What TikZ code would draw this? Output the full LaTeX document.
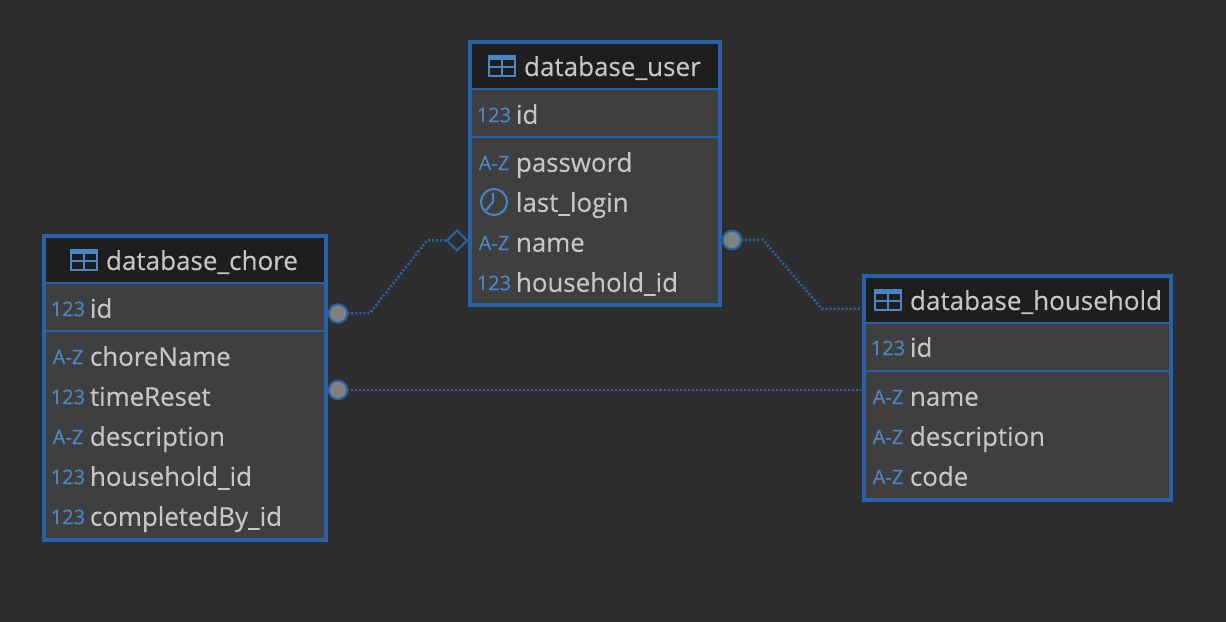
\documentclass[tikz,border=0pt]{standalone}
\usepackage{fontspec}
\setmainfont{Open Sans}[FakeBold=0.25]
\usetikzlibrary{shapes.geometric, positioning}

\definecolor{canvas}{HTML}{2E2E2E}
\definecolor{rowfill}{HTML}{3F3F3F}
\definecolor{headfill}{HTML}{1E1E1E}
\definecolor{frameblue}{HTML}{2A62A8}
\definecolor{iconblue}{HTML}{4A86C4}
\definecolor{fieldtext}{HTML}{C6C6C6}
\definecolor{dotfill}{HTML}{808080}

\begin{document}
\begin{tikzpicture}[
    x=0.01cm, y=-0.01cm,
    % Table frame
    tablebox/.style={
        rectangle,
        draw=frameblue,
        fill=rowfill,
        line width=0.04cm,
        inner sep=0pt,
        outer sep=0pt
    },
    % Dark title band
    headband/.style={
        rectangle,
        fill=headfill,
        anchor=north,
        minimum height=0.45cm,
        inner sep=0pt,
        outer sep=0pt
    },
    % Texts
    tabletitle/.style={
        anchor=base west,
        inner sep=0pt,
        xshift=-0.007cm,
        text=fieldtext,
        font=\fontsize{7.4}{8}\selectfont
    },
    field/.style={
        anchor=base west,
        inner sep=0pt,
        xshift=-0.007cm,
        yshift=0.007cm,
        text=fieldtext,
        font=\fontsize{7.35}{8}\selectfont
    },
    typetag/.style={
        inner sep=0pt,
        text=iconblue,
        font=\fontsize{5.7}{6}\selectfont
    },
    % Row separators
    rowline/.style={
        draw=frameblue,
        line width=0.02cm
    },
    % Connector ends and lines
    keydot/.style={
        circle,
        draw=frameblue,
        fill=dotfill,
        line width=0.02cm,
        minimum size=0.185cm,
        inner sep=0pt,
        outer sep=0pt
    },
    optdiamond/.style={
        diamond,
        aspect=1,
        draw=frameblue,
        line width=0.02cm,
        minimum size=0.2cm,
        inner sep=0pt,
        outer sep=0pt
    },
    relation/.style={
        draw=frameblue,
        line width=0.025cm,
        dash pattern=on 0.02cm off 0.02cm
    },
    % Icons
    tableicon/.pic={
        \draw[iconblue, line width=0.02cm] (-13,-10) rectangle (13,10);
        \fill[iconblue] (-14,-11) rectangle (14,-6);
        \draw[iconblue, line width=0.02cm] (-13,1.5) -- (13,1.5);
        \draw[iconblue, line width=0.02cm] (0,-6) -- (0,10);
    },
    clockicon/.pic={
        \draw[iconblue, line width=0.02cm] (0,0) circle[radius=13];
        \draw[iconblue, line width=0.02cm] (-1,-9) -- (-1,0) -- (-8,8);
    }
]

\fill[canvas] (0,0) rectangle (1226,622);
\useasboundingbox (0,0) rectangle (1226,622);

% === Table: database_user ===
\node[tablebox, minimum width=2.5cm, minimum height=2.63cm] (user) at (595,173.5) {};
\node[headband, minimum width=2.46cm] (userhead) at (595,44) {};
\draw[rowline] (userhead.south west) -- (userhead.south east);
\coordinate (userkeyl) at (472,137);
\draw[rowline] (userkeyl) -- (718,137);
\pic at (502,66) {tableicon};
\node[tabletitle] (usertitle) at (524,76) {database\_user};

\node[typetag] (useridtag) at (494,115) {123};
\node[field] (useridname) at (516,124.5) {id};
\node[typetag] (userpasstag) at (494,163) {A-Z};
\node[field] (userpassname) at (516,172.5) {password};
\pic at (494,202) {clockicon};
\node[field] (userloginname) at (516,212.5) {last\_login};
\node[typetag] (usernametag) at (494,243) {A-Z};
\node[field] (usernamename) at (516,252.5) {name};
\node[typetag] (userhometag) at (494,283) {123};
\node[field] (userhomename) at (516,292.5) {household\_id};

% === Table: database_chore ===
\node[tablebox, minimum width=2.82cm, minimum height=3.04cm] (chore) at (185,388) {};
\node[headband, minimum width=2.78cm] (chorehead) at (185,238) {};
\draw[rowline] (chorehead.south west) -- (chorehead.south east);
\coordinate (chorekeyl) at (46,331);
\draw[rowline] (chorekeyl) -- (324,331);
\pic at (84,260) {tableicon};
\node[tabletitle] (choretitle) at (106,270) {database\_chore};

\node[typetag] (choreidtag) at (68,309) {123};
\node[field] (choreidname) at (90,318.5) {id};
\node[typetag] (chorenametag) at (68,357) {A-Z};
\node[field] (chorenamename) at (90,366.5) {choreName};
\node[typetag] (choretimetag) at (68,397) {123};
\node[field] (choretimename) at (90,406.5) {timeReset};
\node[typetag] (choredesctag) at (68,437) {A-Z};
\node[field] (choredescname) at (90,446.5) {description};
\node[typetag] (chorehometag) at (68,477) {123};
\node[field] (chorehomename) at (90,486.5) {household\_id};
\node[typetag] (choredonetag) at (68,517) {123};
\node[field] (choredonename) at (90,526.5) {completedBy\_id};

% === Table: database_household ===
\node[tablebox, minimum width=3.07cm, minimum height=2.24cm] (household) at (1017.5,388) {};
\node[headband, minimum width=3.03cm] (househead) at (1017.5,278) {};
\draw[rowline] (househead.south west) -- (househead.south east);
\coordinate (housekeyl) at (866,371);
\draw[rowline] (housekeyl) -- (1169,371);
\pic at (888,300) {tableicon};
\node[tabletitle] (housetitle) at (910,310) {database\_household};

\node[typetag] (houseidtag) at (888,348) {123};
\node[field] (houseidname) at (910,357.5) {id};
\node[typetag] (housenametag) at (888,397) {A-Z};
\node[field] (housenamename) at (910,406.5) {name};
\node[typetag] (housedesctag) at (888,437) {A-Z};
\node[field] (housedescname) at (910,446.5) {description};
\node[typetag] (housecodetag) at (888,477) {A-Z};
\node[field] (housecodename) at (910,486.5) {code};

% === Connector ends ===
\node[keydot] (chorekeydot) at (338,313.5) {};
\node[keydot] (choreresetdot) at (338,390) {};
\node[keydot] (userdot) at (732,240) {};
\node[optdiamond] (userdiamond) at (457,240.5) {};

% === Connectors ===
\coordinate (bendchorea) at (370,313);
\coordinate (bendchoreb) at (427,240.5);
\coordinate (bendusera) at (763,240);
\coordinate (benduserb) at (822,309);
\draw[relation] (chorekeydot) -- (bendchorea) -- (bendchoreb) -- (userdiamond);
\draw[relation, shorten >=0.04cm] (userdot) -- (bendusera) -- (benduserb) -- (benduserb -| household.west);
\draw[relation, shorten >=0.04cm] (choreresetdot) -- (choreresetdot -| household.west);

\end{tikzpicture}
\end{document}
